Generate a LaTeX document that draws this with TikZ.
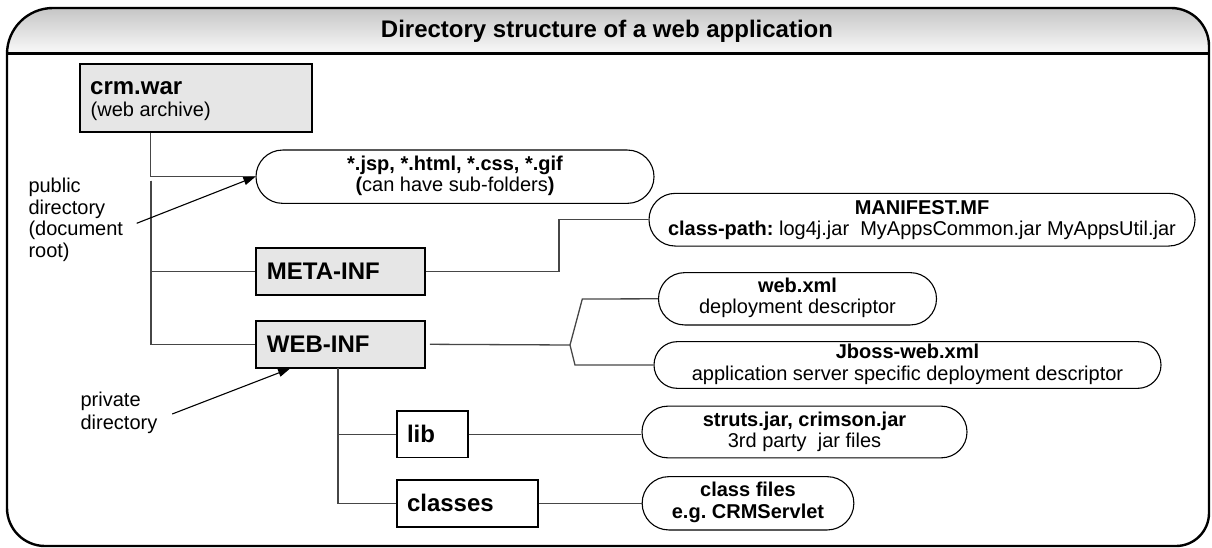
\documentclass[tikz,border=0pt]{standalone}
\usepackage{fontspec}
\setmainfont{Liberation Sans}
\usetikzlibrary{arrows.meta}
\definecolor{boxgray}{RGB}{230,230,230}
\definecolor{conngray}{RGB}{70,70,70}
\frenchspacing
\begin{document}
\begin{tikzpicture}[x=1pt,y=-1pt,
  frameline/.style={line width=2.4pt, draw=black},
  dirbox/.style={draw=black, line width=1.7pt, inner sep=0pt, fill=white},
  greybox/.style={dirbox, fill=boxgray},
  pill/.style={draw=black, line width=1.1pt, fill=white, inner sep=0pt},
  conn/.style={draw=conngray, line width=1.3pt},
  pointer/.style={draw=black, line width=1.1pt, -{Triangle[length=12pt,width=8pt]}},
  boxlabel/.style={anchor=base west, inner sep=0pt, font=\fontsize{24}{28}\selectfont\bfseries},
  txt/.style={anchor=base west, inner sep=0pt, font=\fontsize{20}{24}\selectfont},
  ctxt/.style={anchor=base, inner sep=0pt, font=\fontsize{20}{24}\selectfont},
  ctxtb/.style={anchor=base, inner sep=0pt, font=\fontsize{20}{24}\selectfont\bfseries},
]
\useasboundingbox (0,0) rectangle (1212,548);

% title band
\shade[top color=gray!45, bottom color=gray!4]
  (7,53.5) -- (7,54) arc[start angle=180, end angle=90, radius=46pt]
  -- (1171,8) arc[start angle=90, end angle=0, radius=38pt] -- (1209,53.5) -- cycle;
\draw[frameline]
  (53,8) -- (1171,8) arc[start angle=90, end angle=0, radius=38pt]
  -- (1209,513) arc[start angle=0, end angle=-90, radius=33pt]
  -- (45,546) arc[start angle=270, end angle=180, radius=38pt]
  -- (7,54) arc[start angle=180, end angle=90, radius=46pt] -- cycle;
\draw[line width=2.8pt] (7,53.5) -- (1209,53.5);
\node[anchor=base, inner sep=0pt, font=\fontsize{24}{28}\selectfont\bfseries] (title) at (607,37.5) {Directory structure of a web application};

% directory boxes
\node[greybox, minimum width=232pt, minimum height=68pt] (crm) at (196,98) {};
\node[greybox, minimum width=169pt, minimum height=47pt] (meta) at (340.5,271.5) {};
\node[greybox, minimum width=169pt, minimum height=46.7pt] (webinf) at (340.5,344.3) {};
\node[dirbox, minimum width=70.7pt, minimum height=46.5pt] (lib) at (432.3,434.2) {};
\node[dirbox, minimum width=140.7pt, minimum height=46.7pt] (classes) at (467.3,503.3) {};

\node[boxlabel] (crmA) at (90,95) {crm.war};
\node[txt] (crmB) at (90.5,117) {(web archive)};
\node[boxlabel] (metaA) at (266.7,279.5) {META-INF};
\node[boxlabel] (webinfA) at (266.7,352) {WEB-INF};
\node[boxlabel] (libA) at (406.8,442) {lib};
\node[boxlabel] (classesA) at (406.8,511) {classes};

% file pills
\node[pill, minimum width=398pt, minimum height=53.3pt, rounded corners=26.6pt] (jsp) at (455,176.7) {};
\node[pill, minimum width=546pt, minimum height=52.7pt, rounded corners=26.3pt] (manifest) at (922,219.7) {};
\node[pill, minimum width=278pt, minimum height=52.3pt, rounded corners=26.1pt] (webxml) at (797.5,298.8) {};
\node[pill, minimum width=507pt, minimum height=46.7pt, rounded corners=23.3pt] (jboss) at (907.5,365) {};
\node[pill, minimum width=325pt, minimum height=51.7pt, rounded corners=25.8pt] (struts) at (804.5,432) {};
\node[pill, minimum width=211.7pt, minimum height=53.3pt, rounded corners=26.6pt] (cf) at (748,503.3) {};

\node[ctxtb] (jspA) at ([yshift=6pt]jsp.center) {*.jsp, *.html, *.css, *.gif};
\node[ctxt] (jspB) at ([yshift=-15.3pt]jsp.center) {\textbf{(}can have sub-folders\textbf{)}};
\node[ctxtb] (manA) at ([yshift=5pt]manifest.center) {MANIFEST.MF};
\node[ctxt] (manB) at ([yshift=-15.3pt]manifest.center) {\textbf{class-path:} log4j.jar\ \ MyAppsCommon.jar MyAppsUtil.jar};
\node[ctxtb] (webA) at ([yshift=6pt]webxml.center) {web.xml};
\node[ctxt] (webB) at ([yshift=-15pt]webxml.center) {deployment descriptor};
\node[ctxtb] (jbA) at ([yshift=6.5pt]jboss.center) {Jboss-web.xml};
\node[ctxt] (jbB) at ([yshift=-15.5pt]jboss.center) {application server specific deployment descriptor};
\node[ctxtb] (stA) at ([yshift=6pt]struts.center) {struts.jar, crimson.jar};
\node[ctxt] (stB) at ([yshift=-15.5pt]struts.center) {3rd party\ \ jar files};
\node[ctxtb] (cfA) at ([yshift=6.5pt]cf.center) {class files};
\node[ctxtb] (cfB) at ([yshift=-15pt]cf.center) {e.g. CRMServlet};

% side labels
\node[txt] (pub1) at (28.3,193) {public};
\node[txt] (pub2) at (28.3,214.3) {directory};
\node[txt] (pub3) at (28.3,235.6) {(document};
\node[txt] (pub4) at (28.3,257) {root)};
\node[txt] (priv1) at (80.4,406.7) {private};
\node[txt] (priv2) at (80.4,429.3) {directory};

% connectors
\coordinate (t1) at (151,180.7);
\coordinate (br) at (570,345);
\coordinate (brU) at (582.3,299);
\coordinate (brD) at (575,365);
\coordinate (t2) at (338,367.7);
\draw[conn] ([xshift=71pt]crm.south west) |- (jsp.west);
\draw[conn] (t1) |- (meta.west);
\draw[conn] (t1) |- (webinf.west);
\draw[conn] (meta.east) -- ++(133,0) |- (manifest.west);
\draw[conn] ([xshift=4pt]webinf.east) -- (br);
\draw[conn] (br) -- (brU) -- (webxml.west);
\draw[conn] (br) -- (brD) -- (jboss.west);
\draw[conn] (t2) |- (classes.west);
\draw[conn] (lib.west -| t2) -- (lib.west);
\draw[conn] (lib.east) -- (lib.east -| struts.west);
\draw[conn] (classes.east) -- (cf.west);

% pointers
\coordinate (pubtail) at (136.7,223.3);
\coordinate (privtail) at (172.2,414);
\draw[pointer] (pubtail) -- (jsp.west);
\draw[pointer] (privtail) -- ([xshift=35pt]webinf.south west);
\end{tikzpicture}
\end{document}
